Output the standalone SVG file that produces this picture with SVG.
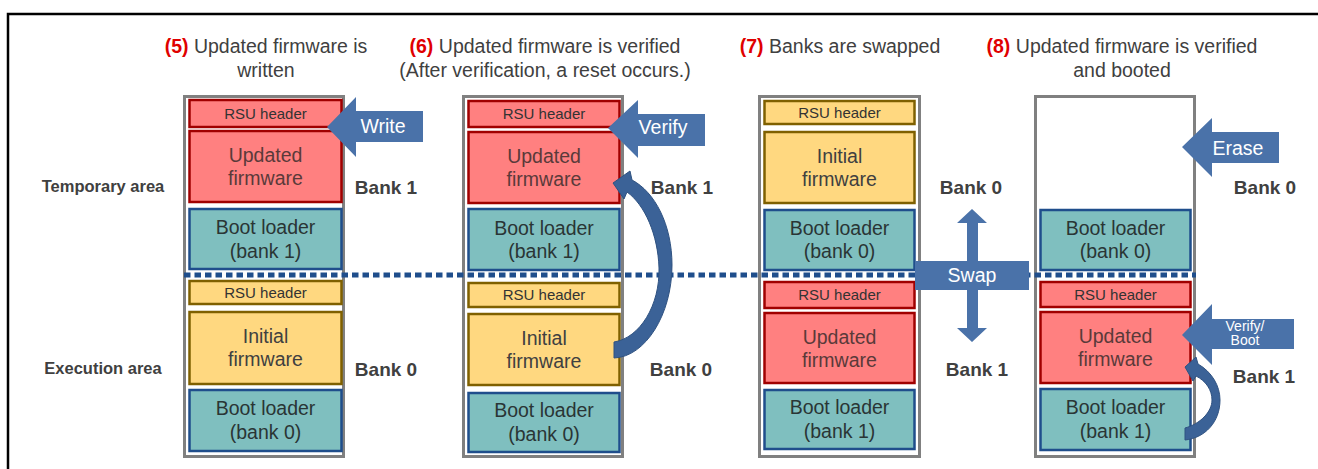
<svg xmlns="http://www.w3.org/2000/svg" width="1318" height="469" viewBox="0 0 1318 469">
<style>
text{font-family:"Liberation Sans",Arial,sans-serif;}
.ttl{font-size:19.5px;fill:#404040;text-anchor:middle;}
.num{font-weight:bold;fill:#e00000;}
.area{font-size:16.5px;font-weight:bold;fill:#404040;text-anchor:middle;}
.bank{font-size:19px;font-weight:bold;fill:#404040;text-anchor:middle;}
.col{fill:#ffffff;stroke:#808080;stroke-width:3;}
.red{fill:#ff8080;stroke:#a00000;stroke-width:2.5;}
.yel{fill:#ffd880;stroke:#7f6000;stroke-width:2.5;}
.teal{fill:#7fbfbf;stroke:#1f4e8c;stroke-width:2.5;}
.hdr{font-size:15px;fill:#333333;text-anchor:middle;}
.bx{font-size:19.5px;fill:#404040;text-anchor:middle;}
.bxr{font-size:19.5px;fill:#5a3a3a;text-anchor:middle;}
.bxt{font-size:19.5px;fill:#2a3535;text-anchor:middle;}
.arr{fill:#4a72a9;}
.curv{fill:#3b6297;stroke:#2f5281;stroke-width:1;}
.atx{font-size:19.5px;fill:#ffffff;text-anchor:middle;}
.sm{font-size:14px;}
.dot{stroke:#1f4e8c;stroke-width:5;stroke-dasharray:6.5 4;fill:none;}
</style>
<path d="M8,472 V14 H1320" fill="none" stroke="#000000" stroke-width="2.5"/>

<g id="titles">
<text class="ttl" x="266" y="53"><tspan class="num">(5)</tspan> Updated firmware is</text>
<text class="ttl" x="266" y="77">written</text>
<text class="ttl" x="545" y="53"><tspan class="num">(6)</tspan> Updated firmware is verified</text>
<text class="ttl" x="545" y="77">(After verification, a reset occurs.)</text>
<text class="ttl" x="840" y="53"><tspan class="num">(7)</tspan> Banks are swapped</text>
<text class="ttl" x="1122" y="53"><tspan class="num">(8)</tspan> Updated firmware is verified</text>
<text class="ttl" x="1122" y="77">and booted</text>
</g>

<g id="area-labels">
<text class="area" x="103" y="192">Temporary area</text>
<text class="area" x="103" y="374">Execution area</text>
</g>

<g id="col5">
<rect class="col" x="184.5" y="96.5" width="159" height="360"/>
<rect class="red" x="189.5" y="100" width="152" height="27"/>
<text class="hdr" x="265.5" y="119">RSU header</text>
<rect class="red" x="189.5" y="131" width="152" height="71"/>
<text class="bxr" x="265.5" y="162">Updated</text>
<text class="bxr" x="265.5" y="185">firmware</text>
<rect class="teal" x="189.5" y="209" width="152" height="60"/>
<text class="bxt" x="265.5" y="234">Boot loader</text>
<text class="bxt" x="265.5" y="258">(bank 1)</text>
<rect class="yel" x="189.5" y="281" width="152" height="23"/>
<text class="hdr" x="265.5" y="298">RSU header</text>
<rect class="yel" x="189.5" y="312" width="152" height="72"/>
<text class="bx" x="265.5" y="343">Initial</text>
<text class="bx" x="265.5" y="366">firmware</text>
<rect class="teal" x="189.5" y="390" width="152" height="61"/>
<text class="bxt" x="265.5" y="415">Boot loader</text>
<text class="bxt" x="265.5" y="439">(bank 0)</text>
<text class="bank" x="386" y="194">Bank 1</text>
<text class="bank" x="386" y="376">Bank 0</text>
</g>

<g id="col6">
<rect class="col" x="463.5" y="96.5" width="159" height="360"/>
<rect class="red" x="468.5" y="101" width="151" height="26"/>
<text class="hdr" x="544" y="119">RSU header</text>
<rect class="red" x="468.5" y="132" width="151" height="71"/>
<text class="bxr" x="544" y="163">Updated</text>
<text class="bxr" x="544" y="186">firmware</text>
<rect class="teal" x="468.5" y="209" width="151" height="61"/>
<text class="bxt" x="544" y="235">Boot loader</text>
<text class="bxt" x="544" y="258">(bank 1)</text>
<rect class="yel" x="468.5" y="283" width="151" height="24"/>
<text class="hdr" x="544" y="300">RSU header</text>
<rect class="yel" x="468.5" y="314" width="151" height="71"/>
<text class="bx" x="544" y="345">Initial</text>
<text class="bx" x="544" y="368">firmware</text>
<rect class="teal" x="468.5" y="393" width="151" height="59"/>
<text class="bxt" x="544" y="417">Boot loader</text>
<text class="bxt" x="544" y="441">(bank 0)</text>
<text class="bank" x="682" y="194">Bank 1</text>
<text class="bank" x="681" y="376">Bank 0</text>
</g>

<g id="col7">
<rect class="col" x="759.5" y="96.5" width="160" height="360"/>
<rect class="yel" x="764.5" y="101" width="150" height="23"/>
<text class="hdr" x="839.5" y="118">RSU header</text>
<rect class="yel" x="764.5" y="132" width="150" height="71"/>
<text class="bx" x="839.5" y="163">Initial</text>
<text class="bx" x="839.5" y="186">firmware</text>
<rect class="teal" x="764.5" y="210" width="150" height="60"/>
<text class="bxt" x="839.5" y="235">Boot loader</text>
<text class="bxt" x="839.5" y="258">(bank 0)</text>
<rect class="red" x="764.5" y="282" width="150" height="26"/>
<text class="hdr" x="839.5" y="300">RSU header</text>
<rect class="red" x="764.5" y="313" width="150" height="70"/>
<text class="bxr" x="839.5" y="344">Updated</text>
<text class="bxr" x="839.5" y="367">firmware</text>
<rect class="teal" x="764.5" y="390" width="150" height="59"/>
<text class="bxt" x="839.5" y="414">Boot loader</text>
<text class="bxt" x="839.5" y="438">(bank 1)</text>
<text class="bank" x="971" y="194">Bank 0</text>
<text class="bank" x="977" y="376">Bank 1</text>
</g>

<g id="col8">
<rect class="col" x="1035.5" y="96.5" width="159" height="360"/>
<rect class="teal" x="1040.5" y="210" width="150" height="60"/>
<text class="bxt" x="1115.5" y="235">Boot loader</text>
<text class="bxt" x="1115.5" y="258">(bank 0)</text>
<rect class="red" x="1040.5" y="282" width="150" height="25"/>
<text class="hdr" x="1115.5" y="300">RSU header</text>
<rect class="red" x="1040.5" y="312" width="150" height="71"/>
<text class="bxr" x="1115.5" y="343">Updated</text>
<text class="bxr" x="1115.5" y="366">firmware</text>
<rect class="teal" x="1040.5" y="389" width="150" height="61"/>
<text class="bxt" x="1115.5" y="414">Boot loader</text>
<text class="bxt" x="1115.5" y="438">(bank 1)</text>
<text class="bank" x="1265" y="194">Bank 0</text>
<text class="bank" x="1264" y="383">Bank 1</text>
</g>

<g id="connectors">
<line class="dot" x1="184" y1="275" x2="1196" y2="275"/>
<g id="write-arrow">
<polygon class="arr" points="327,127 356,97 356,111 423,111 423,142 356,142 356,157"/>
<text class="atx" x="383" y="133">Write</text>
</g>
<g id="verify-arrow">
<polygon class="arr" points="608,128 638,100 638,114 705,114 705,146 638,146 638,158"/>
<text class="atx" x="663" y="134">Verify</text>
</g>
<g id="erase-arrow">
<polygon class="arr" points="1182,147 1212,118 1212,132 1279,132 1279,163 1212,163 1212,177"/>
<text class="atx" x="1238" y="155">Erase</text>
</g>
<g id="verifyboot-arrow">
<polygon class="arr" points="1182,335 1212,304 1212,319 1294,319 1294,349 1212,349 1212,365"/>
<text class="atx sm" x="1245" y="331">Verify/</text>
<text class="atx sm" x="1245" y="345">Boot</text>
</g>
<g id="swap-arrow">
<polygon class="arr" points="972,209 987,223 978,223 978,328 987,328 972,342 957,328 967,328 967,223 957,223"/>
<rect class="arr" x="915" y="261" width="114" height="29"/>
<text class="atx" x="972" y="282">Swap</text>
</g>
<path id="curve6" class="curv" d="M613,183 L630,171 L632,180 C655,192 672,225 672,265 C672,315 645,357 614,358 L614,342 C640,338 660,305 659,268 C658,235 645,205 627,192 L624,199 Z"/>
<path id="curve8" class="curv" d="M1185,367 L1196,357 L1198,364 C1212,372 1220,386 1220,400 C1220,422 1205,438 1185,440 L1185,428 C1200,424 1212,412 1212,400 C1212,390 1206,381 1196,376 L1193,381 Z"/>
</g>
</svg>
